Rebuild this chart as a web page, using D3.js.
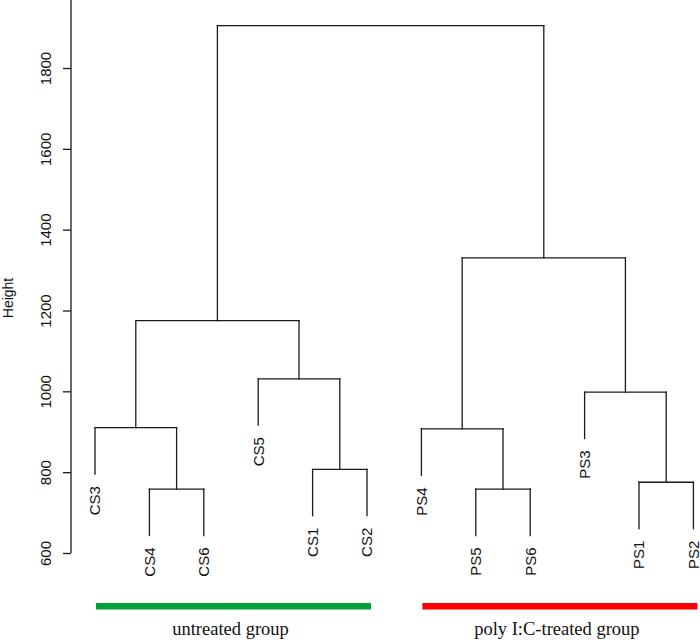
<!DOCTYPE html>
<html>
<head>
<meta charset="utf-8">
<script src="https://cdn.jsdelivr.net/npm/d3@7"></script>
<style>
  html, body { margin: 0; padding: 0; background: #fff; }
  svg { display: block; }
</style>
</head>
<body>
<svg id="chart" width="700" height="642"></svg>
<script>
// ---- data ----
const leafLabels = ["CS3","CS4","CS6","CS5","CS1","CS2","PS4","PS5","PS6","PS3","PS1","PS2"];
// merges: [left, right, height]; negative = leaf index (1-based, R style), positive = earlier merge (1-based)
const mergeLeft   = [-2, -5, -8, -11, -1,  -7,  -10, -4,  5,  6,  9];
const mergeRight  = [-3, -6, -9, -12,  1,   3,    4,  2,  8,  7, 10];
const mergeHeight = [758, 807, 758, 775, 910, 907, 998, 1031, 1175, 1330, 1905];
const yTicks = [600, 800, 1000, 1200, 1400, 1600, 1800];
const axisTop = 2000;
const groupNames = ["untreated group", "poly I:C-treated group"];
const groupColors = ["#00a13a", "#ff0000"];
const groupFirstLeaf = [0, 6];
const groupLastLeaf = [5, 11];

// ---- scales ----
const svg = d3.select("#chart");
const axisX = 71;
const x = d3.scaleLinear().domain([0, leafLabels.length - 1]).range([95, 693.4]);
const y = d3.scaleLinear().domain([600, 1800]).range([553, 68]);

const hang = 0.1 * (d3.max(mergeHeight) - d3.min(mergeHeight));

// compute node positions
const nodes = mergeHeight.map(() => ({}));
function pos(ref) {
  if (ref < 0) return { x: x(-ref - 1), leaf: -ref - 1 };
  return nodes[ref - 1];
}
mergeHeight.forEach((h, i) => {
  const a = pos(mergeLeft[i]), b = pos(mergeRight[i]);
  nodes[i].x = (a.x + b.x) / 2;
  nodes[i].h = h;
});

const g = svg.append("g");
const segs = [];
const leafEnds = [];
mergeHeight.forEach((h, i) => {
  [mergeLeft[i], mergeRight[i]].forEach(ref => {
    const c = pos(ref);
    let ch;
    if (ref < 0) { ch = h - hang; leafEnds.push({ leaf: c.leaf, x: c.x, h: ch }); }
    else ch = c.h;
    segs.push([c.x, y(ch), c.x, y(h)]);
  });
  const a = pos(mergeLeft[i]), b = pos(mergeRight[i]);
  segs.push([a.x, y(h), b.x, y(h)]);
});

g.selectAll("line.seg").data(segs).enter().append("line")
  .attr("class", "seg")
  .attr("x1", d => d[0]).attr("y1", d => d[1])
  .attr("x2", d => d[2]).attr("y2", d => d[3])
  .attr("stroke", "#1a1a1a").attr("stroke-width", 1.3)
  .attr("stroke-linecap", "square");

const sans = "Liberation Sans, Arial, Helvetica, sans-serif";

// leaf labels
g.selectAll("text.leaf").data(leafEnds).enter().append("text")
  .attr("class", "leaf")
  .attr("transform", d => `translate(${d.x},${y(d.h) + 12}) rotate(-90)`)
  .attr("text-anchor", "end")
  .attr("dy", "0.36em")
  .attr("font-family", sans)
  .attr("font-size", 15)
  .attr("fill", "#111")
  .text(d => leafLabels[d.leaf]);

// y axis
const yAxis = d3.axisLeft(y)
  .tickValues(yTicks).tickSize(8).tickSizeOuter(0).tickFormat(d3.format("d"));
const ax = svg.append("g").attr("transform", `translate(${axisX},0)`).call(yAxis);
ax.select(".domain").attr("d", `M0,${y(600)}V${y(axisTop)}`)
  .attr("stroke", "#1a1a1a").attr("stroke-width", 1.3);
ax.selectAll(".tick line").attr("stroke", "#1a1a1a").attr("stroke-width", 1.3);
ax.selectAll(".tick text")
  .attr("transform", "rotate(-90)")
  .attr("x", 0).attr("y", -25).attr("dy", "0.36em")
  .attr("text-anchor", "middle")
  .attr("font-family", sans)
  .attr("font-size", 15)
  .attr("fill", "#111");

svg.append("text")
  .attr("transform", "translate(8,298) rotate(-90)")
  .attr("text-anchor", "middle").attr("dy", "0.36em")
  .attr("font-family", sans)
  .attr("font-size", 14).attr("fill", "#111")
  .text("Height");

// group bars
const bars = svg.append("g");
groupNames.forEach((name, i) => {
  const x0 = x(groupFirstLeaf[i]) + 1, x1 = x(groupLastLeaf[i]) + 4;
  bars.append("rect")
    .attr("x", x0).attr("y", 603)
    .attr("width", x1 - x0).attr("height", 6.5)
    .attr("fill", groupColors[i]);
  bars.append("text")
    .attr("x", (x0 + x1) / 2 - 3).attr("y", 635)
    .attr("text-anchor", "middle")
    .attr("font-family", "Liberation Serif, Times New Roman, serif")
    .attr("font-size", 18.5).attr("fill", "#111")
    .text(name);
});
</script>
</body>
</html>
